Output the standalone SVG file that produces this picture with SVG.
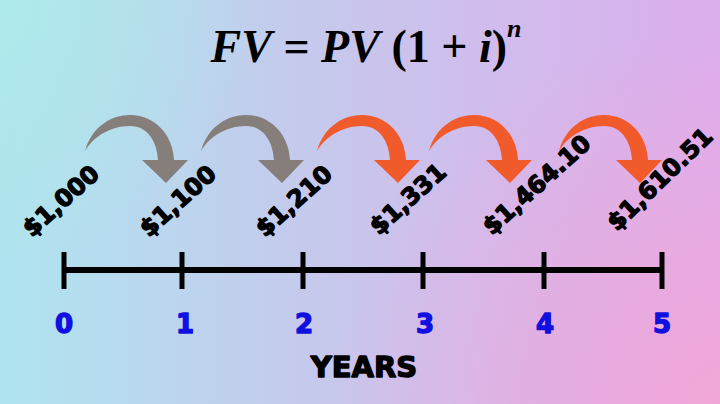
<svg xmlns="http://www.w3.org/2000/svg" width="720" height="404" viewBox="0 0 720 404">
  <defs>
    <linearGradient id="bgH" x1="0" y1="0" x2="720" y2="0" gradientUnits="userSpaceOnUse">
      <stop offset="0" stop-color="#afe4ef"/>
      <stop offset="0.5" stop-color="#c9c5ec"/>
      <stop offset="1" stop-color="#dcaeee"/>
    </linearGradient>
    <radialGradient id="bgBR" cx="720" cy="404" r="380" gradientUnits="userSpaceOnUse">
      <stop offset="0" stop-color="#f1a6d8" stop-opacity="1"/>
      <stop offset="1" stop-color="#f1a6d8" stop-opacity="0"/>
    </radialGradient>
    <radialGradient id="bgTL" cx="0" cy="0" r="260" gradientUnits="userSpaceOnUse">
      <stop offset="0" stop-color="#aeeaea" stop-opacity="0.9"/>
      <stop offset="1" stop-color="#aeeaea" stop-opacity="0"/>
    </radialGradient>
    <path id="arrow" d="M 85 151 C 92 126, 112 115, 130 115 C 155 115, 173 135, 174 160 L 188 160 L 166 183 L 142 160 L 158 160 C 157 142, 148 126, 130 126 C 110 126, 93 137, 85 151 Z"/>
    <style>
      .gray { fill: #857e7a; }
      .orange { fill: #f15a2b; }
      .amt { font-family: "DejaVu Sans", "Liberation Sans", sans-serif; font-weight: bold; font-size: 24px; fill: #000; stroke: #000; stroke-width: 1.3; stroke-linejoin: round; }
      .num { font-family: "DejaVu Sans", "Liberation Sans", sans-serif; font-weight: bold; font-size: 26px; fill: #1010e0; stroke: #1010e0; stroke-width: 1.4; stroke-linejoin: round; text-anchor: middle; }
      .tick { stroke: #000; stroke-width: 5; }
      .title { font-family: "Liberation Serif", "DejaVu Serif", serif; font-weight: bold; font-size: 46px; fill: #000; }
    </style>
  </defs>

  <rect width="720" height="404" fill="url(#bgH)"/>
  <rect width="720" height="404" fill="url(#bgTL)"/>
  <rect width="720" height="404" fill="url(#bgBR)"/>

  <g id="formula">
    <text class="title" x="366" y="62" text-anchor="middle"><tspan font-style="italic">FV</tspan> = <tspan font-style="italic">PV</tspan> (1 + <tspan font-style="italic">i</tspan>)<tspan font-style="italic" font-size="26" dy="-25">n</tspan></text>
  </g>

  <g id="connectors">
    <use href="#arrow" class="gray"/>
    <use href="#arrow" class="gray" transform="translate(116,0)"/>
    <use href="#arrow" class="orange" transform="translate(232,0)"/>
    <use href="#arrow" class="orange" transform="translate(344,0)"/>
    <use href="#arrow" class="orange" transform="translate(474,0)"/>
  </g>

  <g id="amt0"><text class="amt" transform="translate(32,238) rotate(-42)">$1,000</text></g>
  <g id="amt1"><text class="amt" transform="translate(149,238) rotate(-42)">$1,100</text></g>
  <g id="amt2"><text class="amt" transform="translate(265,238) rotate(-42)">$1,210</text></g>
  <g id="amt3"><text class="amt" transform="translate(379,236) rotate(-42)">$1,331</text></g>
  <g id="amt4"><text class="amt" transform="translate(492,236) rotate(-42)">$1,464.10</text></g>
  <g id="amt5"><text class="amt" transform="translate(617,232) rotate(-44)">$1,610.51</text></g>

  <g id="timeline">
    <line x1="62" y1="270" x2="664" y2="270" stroke="#000" stroke-width="6"/>
    <line class="tick" x1="64" y1="252" x2="64" y2="289"/>
    <line class="tick" x1="182" y1="252" x2="182" y2="289"/>
    <line class="tick" x1="303" y1="252" x2="303" y2="289"/>
    <line class="tick" x1="423" y1="252" x2="423" y2="289"/>
    <line class="tick" x1="544" y1="252" x2="544" y2="289"/>
    <line class="tick" x1="662" y1="252" x2="662" y2="289"/>
  </g>

  <g id="years">
    <text class="num" x="64" y="333">0</text>
    <text class="num" x="185" y="333">1</text>
    <text class="num" x="304" y="333">2</text>
    <text class="num" x="425" y="333">3</text>
    <text class="num" x="545" y="333">4</text>
    <text class="num" x="662" y="333">5</text>
  </g>

  <g id="axis-label">
    <text x="364" y="377" text-anchor="middle" font-family="DejaVu Sans, Liberation Sans, sans-serif" font-weight="bold" font-size="29" fill="#000" stroke="#000" stroke-width="1.4" stroke-linejoin="round">YEARS</text>
  </g>
</svg>
